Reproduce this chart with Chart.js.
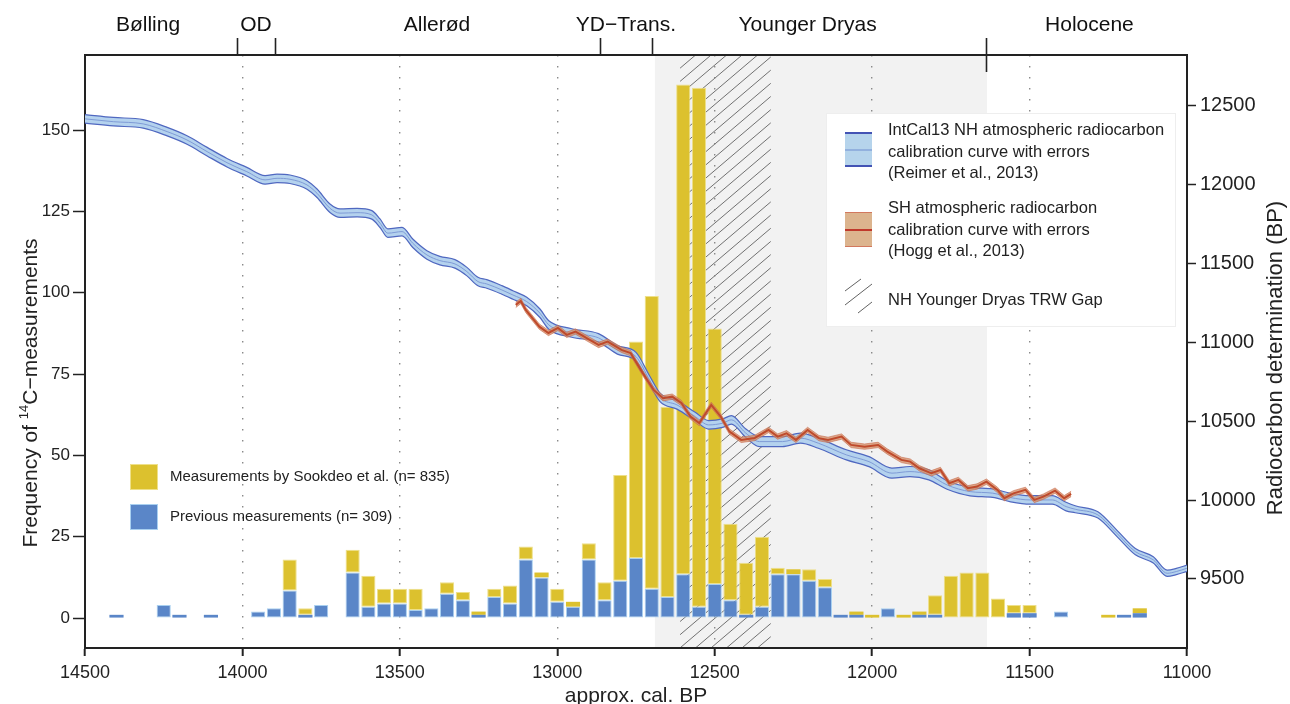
<!DOCTYPE html>
<html>
<head>
<meta charset="utf-8">
<script src="https://cdn.jsdelivr.net/npm/chart.js@4.4.0/dist/chart.umd.min.js"></script>
<style>
html,body{margin:0;padding:0;background:#fff;}
canvas{display:block;}
</style>
</head>
<body>
<canvas id="c" width="1290" height="704"></canvas>
<script>
// ---------- DATA ----------
const binYears = [14400,14250,14200,14100,13950,13900,13850,13800,13750,
  13650,13600,13550,13500,13450,13400,13350,13300,13250,13200,13150,13100,13050,13000,12950,12900,12850,
  12800,12750,12700,12650,12600,12550,12500,12450,12400,12350,12300,12250,12200,12150,12100,12050,12000,
  11950,11900,11850,11800,11750,11700,11650,11600,11550,11500,11400,11250,11200,11150];
const previousCounts = [1,4,1,1,2,3,8.5,1,4,
  14,3.5,4.5,4.5,2.5,3,7.5,5.5,1,6.5,4.5,18,12.5,5,3.5,18,5.5,
  11.5,18.5,9,6.5,13.5,3.5,10.5,5.5,1,3.5,13.5,13.5,11.5,9.5,1,1,0,
  3,0,1,1,0,0,0,0,1.5,1.5,2,0,1,1.5];
const sookdeoCounts = [0,0,0,0,0,0,9.5,2,0,
  7,9.5,4.5,4.5,6.5,0,3.5,2.5,1,2.5,5.5,4,1.5,4,1.5,5,5.5,
  32.5,66.5,90,58.5,150.5,159.5,78.5,23.5,16,21.5,2,1.5,3.5,2.5,0,1,1,
  0,1,1,6,13,14,14,6,2.5,2.5,0,1,0,1.5];

const xTicks = [14500,14000,13500,13000,12500,12000,11500,11000];
const yTicks = [0,25,50,75,100,125,150];
const y2Ticks = [9500,10000,10500,11000,11500,12000,12500];

const intcalYears = [14500,14410,14315,14239,14176,14112,14049,13986,13928,13890,13849,13795,13763,13722,13690,13636,13589,13563,13538,13493,13459,13414,13373,13325,13287,13252,13224,13176,13141,13097,13055,13027,12954,12869,12809,12750,12707,12672,12620,12562,12519,12475,12447,12402,12358,12285,12228,12171,12082,12010,11937,11880,11820,11762,11689,11617,11560,11499,11428,11384,11355,11283,11223,11164,11107,11063,11034,11000];
const intcalBP = [12418,12400,12386,12337,12284,12210,12140,12083,12031,12041,12035,11999,11946,11851,11820,11823,11809,11756,11693,11703,11629,11555,11519,11498,11449,11386,11371,11333,11301,11259,11185,11111,11060,11029,10953,10910,10762,10648,10604,10530,10477,10488,10509,10426,10371,10371,10393,10361,10287,10244,10171,10181,10160,10096,10054,10044,10016,10001,10001,9959,9942,9906,9790,9673,9621,9536,9547,9568];
const intcalSigma = [27,27,27,27,27,27,27,27,27,27,27,27,27,27,27,27,27,27,27,27,27,27,27,27,27,27,27,27,27,27,27,27,27,27,27,27,27,27,27,27,27,27,27,27,32,32,32,32,32,32,32,32,32,27,27,27,27,27,27,27,22,20,20,20,20,20,20,20];

const shYears = [13132,13116,13100,13057,13028,12998,12970,12942,12897,12869,12840,12796,12767,12729,12694,12664,12635,12606,12577,12549,12511,12481,12453,12416,12373,12329,12300,12272,12242,12205,12169,12140,12097,12067,12024,11981,11952,11907,11879,11850,11812,11783,11755,11726,11696,11667,11637,11602,11580,11551,11513,11485,11456,11419,11390,11368];
const shBP = [11238,11263,11206,11100,11060,11092,11048,11069,11016,10984,11005,10953,10932,10807,10699,10646,10656,10616,10530,10488,10604,10530,10434,10382,10394,10445,10403,10424,10382,10445,10393,10382,10403,10350,10339,10350,10308,10255,10244,10202,10170,10191,10107,10128,10075,10086,10117,10065,10012,10043,10065,10001,10022,10060,10012,10039];
const shSigma = [17,17,17,17,17,17,17,17,17,17,17,17,17,17,17,17,17,17,17,17,17,17,17,17,17,17,17,17,17,17,17,17,17,17,17,17,17,17,17,17,17,17,17,17,17,17,17,17,17,17,17,17,17,17,17,17];

const periodNames = ['Bølling','OD','Allerød','YD\u2212Trans.','Younger Dryas','Holocene'];
const periodLabelYears = [14300,13957,13382,12782,12205,11310];
const periodBoundaries = [14017,13896,12864,12699,11637];
const ydShade = [12690,11635];
const trwGap = [12610,12322];

// ---------- STYLE ----------
const FONT = "'Liberation Sans', Arial, Helvetica, sans-serif";
const BLUE = '#5a86c8', YELLOW = '#dcc12e';
Chart.defaults.font.family = FONT;
Chart.defaults.color = '#222';

const pts = (xs, ys, sig, k) => xs.map((x, i) => ({x: x, y: ys[i] + (sig ? k * sig[i] : 0)}));
const bars = vals => binYears.map((x, i) => ({x: x, y: vals[i] ? vals[i] : null}));
const barBorder = c => (c.raw && c.raw.y !== null && c.raw.y < 2) ? 0 : 1;

const backdrop = {
  id: 'backdrop',
  beforeDraw(chart) {
    const {ctx, chartArea: a, scales: {x}} = chart;
    ctx.save();
    const s0 = x.getPixelForValue(ydShade[0]), s1 = x.getPixelForValue(ydShade[1]);
    ctx.fillStyle = '#f2f2f2';
    ctx.fillRect(s0, a.top, s1 - s0, a.bottom - a.top);
    const h0 = x.getPixelForValue(trwGap[0]), h1 = x.getPixelForValue(trwGap[1]);
    ctx.beginPath(); ctx.rect(h0, a.top, h1 - h0, a.bottom - a.top); ctx.clip();
    ctx.strokeStyle = 'rgba(80,80,80,0.8)'; ctx.lineWidth = 1;
    const slope = 0.85, H = a.bottom - a.top;
    ctx.beginPath();
    for (let s = h0 - H / slope; s < h1 + 20; s += 15.5) {
      ctx.moveTo(s, a.bottom); ctx.lineTo(s + H / slope, a.top);
    }
    ctx.stroke();
    ctx.restore();
  }
};

const decor = {
  id: 'decor',
  afterDraw(chart) {
    const {ctx, chartArea: a, scales: {x}} = chart;
    ctx.save();
    // top frame
    ctx.strokeStyle = '#222'; ctx.lineWidth = 2;
    ctx.beginPath(); ctx.moveTo(a.left - 1, a.top); ctx.lineTo(a.right + 1, a.top); ctx.stroke();
    // period boundaries
    ctx.lineWidth = 1.6;
    periodBoundaries.forEach((yr, i) => {
      const px = Math.round(x.getPixelForValue(yr)) + 0.5;
      ctx.beginPath(); ctx.moveTo(px, 38);
      ctx.lineTo(px, i === periodBoundaries.length - 1 ? 72 : a.top); ctx.stroke();
    });
    ctx.fillStyle = '#111'; ctx.font = '21px ' + FONT;
    ctx.textAlign = 'center'; ctx.textBaseline = 'middle';
    periodNames.forEach((n, i) => ctx.fillText(n, x.getPixelForValue(periodLabelYears[i]), 25));

    // left axis title (with superscript)
    ctx.save();
    ctx.translate(30, 393); ctx.rotate(-Math.PI / 2);
    const p1 = 'Frequency of ', p2 = '14', p3 = 'C\u2212measurements';
    ctx.font = '21px ' + FONT; const w1 = ctx.measureText(p1).width, w3 = ctx.measureText(p3).width;
    ctx.font = '13px ' + FONT; const w2 = ctx.measureText(p2).width;
    let sx = -(w1 + w2 + w3) / 2;
    ctx.textAlign = 'left'; ctx.textBaseline = 'alphabetic'; ctx.fillStyle = '#222';
    ctx.font = '21px ' + FONT; ctx.fillText(p1, sx, 7); sx += w1;
    ctx.font = '13px ' + FONT; ctx.fillText(p2, sx, -2); sx += w2;
    ctx.font = '21px ' + FONT; ctx.fillText(p3, sx, 7);
    ctx.restore();

    // right axis title
    ctx.save();
    ctx.translate(1276, 358); ctx.rotate(-Math.PI / 2);
    ctx.font = '22px ' + FONT; ctx.textAlign = 'center'; ctx.textBaseline = 'middle'; ctx.fillStyle = '#222';
    ctx.fillText('Radiocarbon determination (BP)', 0, 0);
    ctx.restore();

    // left legend
    ctx.font = '15px ' + FONT; ctx.textAlign = 'left'; ctx.textBaseline = 'middle';
    const legL = [
      {c: YELLOW, b: '#eee08a', t: 'Measurements by Sookdeo et al. (n= 835)', y: 477},
      {c: BLUE, b: '#a9d0f0', t: 'Previous measurements (n= 309)', y: 517}
    ];
    legL.forEach(e => {
      ctx.fillStyle = e.c; ctx.fillRect(130, e.y - 13, 28, 26);
      ctx.strokeStyle = e.b; ctx.lineWidth = 1; ctx.strokeRect(130.5, e.y - 12.5, 27, 25);
      ctx.fillStyle = '#222'; ctx.fillText(e.t, 170, e.y);
    });

    // right legend box
    ctx.fillStyle = '#fff'; ctx.fillRect(826, 113, 350, 214);
    ctx.strokeStyle = '#eeeeee'; ctx.lineWidth = 1; ctx.strokeRect(826.5, 113.5, 349, 213);
    // IntCal swatch
    ctx.fillStyle = '#b6d4ec'; ctx.fillRect(845, 133, 27, 34);
    ctx.strokeStyle = '#4353b4'; ctx.lineWidth = 2;
    ctx.beginPath(); ctx.moveTo(845, 133); ctx.lineTo(872, 133); ctx.moveTo(845, 166); ctx.lineTo(872, 166); ctx.stroke();
    ctx.strokeStyle = '#86a6da'; ctx.lineWidth = 1.5;
    ctx.beginPath(); ctx.moveTo(845, 150); ctx.lineTo(872, 150); ctx.stroke();
    // SH swatch
    ctx.fillStyle = '#dcb48e'; ctx.fillRect(845, 212, 27, 35);
    ctx.strokeStyle = '#d2785e'; ctx.lineWidth = 1.2;
    ctx.beginPath(); ctx.moveTo(845, 212.5); ctx.lineTo(872, 212.5); ctx.moveTo(845, 246.5); ctx.lineTo(872, 246.5); ctx.stroke();
    ctx.strokeStyle = '#c0392b'; ctx.lineWidth = 2;
    ctx.beginPath(); ctx.moveTo(845, 230); ctx.lineTo(872, 230); ctx.stroke();
    // hatch swatch
    ctx.strokeStyle = 'rgba(70,70,70,0.85)'; ctx.lineWidth = 1;
    ctx.beginPath();
    [[845,291,861,279],[845,305,872,284],[858,313,872,302]].forEach(l => { ctx.moveTo(l[0], l[1]); ctx.lineTo(l[2], l[3]); });
    ctx.stroke();
    ctx.fillStyle = '#222'; ctx.font = '16.5px ' + FONT; ctx.textAlign = 'left'; ctx.textBaseline = 'middle';
    [['IntCal13 NH atmospheric radiocarbon', 130], ['calibration curve with errors', 152], ['(Reimer et al., 2013)', 173],
     ['SH atmospheric radiocarbon', 208], ['calibration curve with errors', 230], ['(Hogg et al., 2013)', 251],
     ['NH Younger Dryas TRW Gap', 300]].forEach(t => ctx.fillText(t[0], 888, t[1]));
    ctx.restore();
  }
};

const edgeTick = v => v === xTicks[0] || v === xTicks[xTicks.length - 1];

new Chart(document.getElementById('c'), {
  type: 'bar',
  data: {
    datasets: [
      {type: 'line', label: 'SH', data: pts(shYears, shBP), yAxisID: 'y2', borderColor: '#bf4a2c', borderWidth: 2,
       pointRadius: 0, tension: 0, fill: false, order: 0},
      {type: 'line', label: 'SH upper', data: pts(shYears, shBP, shSigma, 1), yAxisID: 'y2', borderColor: 'rgba(200,105,75,0.75)',
       borderWidth: 0.8, pointRadius: 0, tension: 0, fill: false, order: 0},
      {type: 'line', label: 'SH lower', data: pts(shYears, shBP, shSigma, -1), yAxisID: 'y2', borderColor: 'rgba(200,105,75,0.75)',
       borderWidth: 0.8, pointRadius: 0, tension: 0, fill: '-1', backgroundColor: 'rgba(212,140,100,0.75)', order: 0},
      {type: 'line', label: 'IntCal13', data: pts(intcalYears, intcalBP), yAxisID: 'y2', borderColor: '#7f9bd6', borderWidth: 1,
       pointRadius: 0, cubicInterpolationMode: 'monotone', fill: false, order: 0},
      {type: 'line', label: 'IntCal13 upper', data: pts(intcalYears, intcalBP, intcalSigma, 1), yAxisID: 'y2', borderColor: '#5068c0',
       borderWidth: 1.2, pointRadius: 0, cubicInterpolationMode: 'monotone', fill: false, order: 0},
      {type: 'line', label: 'IntCal13 lower', data: pts(intcalYears, intcalBP, intcalSigma, -1), yAxisID: 'y2', borderColor: '#5068c0',
       borderWidth: 1.2, pointRadius: 0, cubicInterpolationMode: 'monotone', fill: '-1', backgroundColor: '#b4d2ee', order: 0},
      {type: 'bar', label: 'Previous measurements', data: bars(previousCounts), yAxisID: 'y', stack: 's',
       backgroundColor: BLUE, borderColor: '#a9d0f0', borderWidth: barBorder, borderSkipped: false,
       barPercentage: 0.9, categoryPercentage: 1, order: 1},
      {type: 'bar', label: 'Measurements by Sookdeo et al.', data: bars(sookdeoCounts), yAxisID: 'y', stack: 's',
       backgroundColor: YELLOW, borderColor: '#eee08a', borderWidth: barBorder, borderSkipped: false,
       barPercentage: 0.9, categoryPercentage: 1, order: 1}
    ]
  },
  options: {
    responsive: false, animation: false, devicePixelRatio: 1,
    layout: {padding: {top: 55, left: 0, right: 0, bottom: 0}},
    plugins: {legend: {display: false}, tooltip: {enabled: false}},
    scales: {
      x: {
        type: 'linear', min: 11000, max: 14500, reverse: true, offset: false, stacked: true,
        afterBuildTicks: s => { s.ticks = xTicks.map(v => ({value: v})); },
        afterFit: s => { s.height = 56; },
        grid: {
          color: c => (c.tick && edgeTick(c.tick.value)) ? 'rgba(0,0,0,0)' : '#8a8a8a',
          lineWidth: 1.4, tickLength: 8, tickColor: '#222', tickWidth: 2, offset: false, tickBorderDash: []
        },
        border: {display: true, color: '#222', width: 2, dash: [1.5, 9.5]},
        ticks: {font: {size: 18}, color: '#222', padding: 6, maxRotation: 0, autoSkip: false, callback: v => String(v)},
        title: {display: true, text: 'approx. cal. BP', font: {size: 21, lineHeight: 0.75}, color: '#222', padding: {top: 0, bottom: 0}}
      },
      y: {
        type: 'linear', position: 'left', min: -9.2, max: 173.1, stacked: true,
        afterBuildTicks: s => { s.ticks = yTicks.map(v => ({value: v})); },
        afterFit: s => { s.width = 85; },
        grid: {drawOnChartArea: false, tickLength: 12, tickColor: '#222', tickWidth: 1.5},
        border: {display: true, color: '#222', width: 2},
        ticks: {font: {size: 17}, color: '#222', padding: 3, callback: v => String(v)}
      },
      y2: {
        type: 'linear', position: 'right', min: 9062, max: 12823,
        afterBuildTicks: s => { s.ticks = y2Ticks.map(v => ({value: v})); },
        afterFit: s => { s.width = 103; },
        grid: {drawOnChartArea: false, tickLength: 9, tickColor: '#222', tickWidth: 1.5},
        border: {display: true, color: '#222', width: 2},
        ticks: {font: {size: 20}, color: '#222', padding: 4, callback: v => String(v)}
      }
    }
  },
  plugins: [backdrop, decor]
});
</script>
</body>
</html>
